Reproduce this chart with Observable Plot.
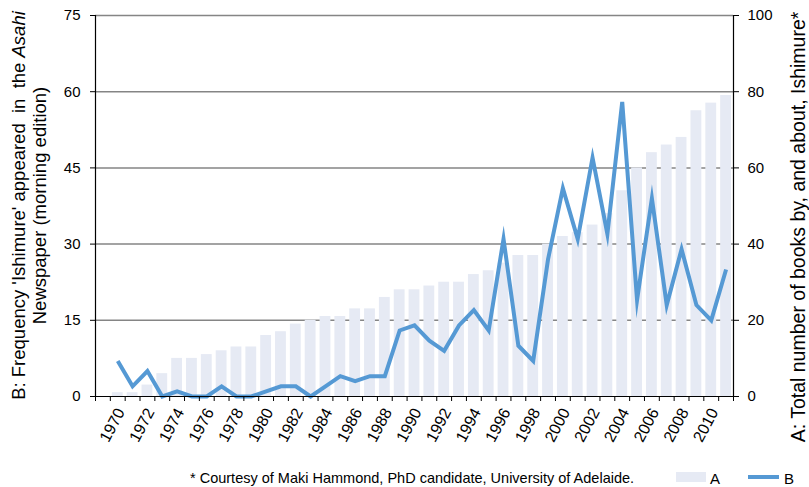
<!DOCTYPE html>
<html>
<head>
<meta charset="utf-8">
<script src="https://cdn.jsdelivr.net/npm/d3@7"></script>
<script src="https://cdn.jsdelivr.net/npm/@observablehq/plot@0.6"></script>
<style>
  body { margin: 0; background: #fff; }
  #chart svg { display: block; }
</style>
</head>
<body>
<div id="chart"></div>
<script>
// ---- data ----
const years = [1970,1971,1972,1973,1974,1975,1976,1977,1978,1979,
               1980,1981,1982,1983,1984,1985,1986,1987,1988,1989,
               1990,1991,1992,1993,1994,1995,1996,1997,1998,1999,
               2000,2001,2002,2003,2004,2005,2006,2007,2008,2009,
               2010,2011];
// A: total number of books by, and about, Ishimure (right axis, 0-100)
const booksA = [1,1,3,6,10,10,11,12,13,13,
                16,17,19,20,21,21,23,23,26,28,
                28,29,30,30,32,33,35,37,37,40,
                42,43,45,48,54,60,64,66,68,75,
                77,79];
// B: frequency 'Ishimure' appeared in the Asahi (left axis, 0-75)
const freqB = [7,2,5,0,1,0,0,2,0,0,
               1,2,2,0,2,4,3,4,4,13,
               14,11,9,14,17,13,31,10,7,27,
               41,31,47,32,58,19,39,18,29,18,
               15,25];
const xTickLabels = ["1970","1972","1974","1976","1978","1980","1982","1984","1986","1988","1990",
                     "1992","1994","1996","1998","2000","2002","2004","2006","2008","2010"];
const leftTicks = [0,15,30,45,60,75];
const rightMax = 100, leftMax = 75;

// ---- layout ----
const W = 809, H = 487, mL = 95, mR = 76, mT = 15, mB = 91;
const slots = ["1969", ...years.map(String)];   // leading empty category as in the original
const half = (W - mL - mR) / slots.length / 2;

const data = years.map((y, i) => ({year: String(y), A: booksA[i], B: freqB[i]}));

const font = "'Liberation Sans', Arial, Helvetica, sans-serif";

const chart = Plot.plot({
  width: W, height: H,
  marginLeft: mL, marginRight: mR, marginTop: mT, marginBottom: mB,
  style: {fontFamily: font, fontSize: "15px", color: "#000", background: "#fff", overflow: "visible"},
  x: {type: "band", domain: slots, padding: 0},
  y: {domain: [0, leftMax]},
  marks: [
    Plot.gridY(leftTicks.filter(d => d > 0), {stroke: "#858585", strokeOpacity: 1, strokeWidth: 1.5}),
    Plot.barY(data, {x: "year", y: d => d.A * leftMax / rightMax, fill: "#e6eaf4", insetLeft: 2, insetRight: 2}),
    Plot.line(data, {x: "year", y: "B", stroke: "#5599d4", strokeWidth: 4,
                     strokeLinejoin: "miter", strokeMiterlimit: 10, strokeLinecap: "butt"}),
    Plot.ruleY([0], {stroke: "#000", strokeWidth: 1.2}),
    Plot.frame({anchor: "left", stroke: "#000", strokeWidth: 1.2}),
    Plot.frame({anchor: "right", stroke: "#000", strokeWidth: 1.2}),
    Plot.axisY(leftTicks, {anchor: "left", tickSize: 5, tickPadding: 10, label: null, stroke: "#000"}),
    Plot.axisY(leftTicks, {anchor: "right", tickSize: 5, tickPadding: 9, label: null, stroke: "#000",
                           tickFormat: d => String(Math.round(d * rightMax / leftMax))}),
    Plot.axisX(slots, {anchor: "bottom", tickSize: 5, dx: half, tickFormat: () => "", label: null, stroke: "#000"}),
    Plot.axisX(["1969"], {anchor: "bottom", tickSize: 5, dx: -half, tickFormat: () => "", label: null, stroke: "#000"}),
    Plot.axisX(xTickLabels, {anchor: "bottom", tickSize: 0, tickRotate: -62, tickPadding: 13, dx: 3,
                             label: null, fontSize: 16})
  ]
});

document.getElementById("chart").appendChild(chart);

// ---- titles, footnote, legend ----
const svg = d3.select(chart);
const cy = (mT + (H - mB)) / 2;

const lt = svg.append("text")
  .attr("transform", `translate(25,${cy}) rotate(-90)`)
  .attr("text-anchor", "middle")
  .style("font-family", font).style("font-size", "18.5px").attr("fill", "#000");
lt.append("tspan").text("B: Frequency 'Ishimure' appeared  in  the ");
lt.append("tspan").style("font-style", "italic").text("Asahi");

svg.append("text")
  .attr("transform", `translate(46,${cy}) rotate(-90)`)
  .attr("text-anchor", "middle")
  .style("font-family", font).style("font-size", "18.5px").attr("fill", "#000")
  .text("Newspaper (morning edition)");

svg.append("text")
  .attr("transform", `translate(805,227) rotate(-90)`)
  .attr("text-anchor", "middle")
  .style("font-family", font).style("font-size", "19.5px").attr("fill", "#000")
  .text("A: Total number of books by, and about, Ishimure*");

svg.append("text")
  .attr("x", 190).attr("y", 483).attr("text-anchor", "start")
  .style("font-family", font).style("font-size", "14.5px").attr("fill", "#000")
  .text("* Courtesy of Maki Hammond, PhD candidate, University of Adelaide.");

svg.append("rect").attr("x", 676).attr("y", 472).attr("width", 30).attr("height", 10).attr("fill", "#e6eaf4");
svg.append("text").attr("x", 710).attr("y", 484).attr("text-anchor", "start")
  .style("font-family", font).style("font-size", "15px").attr("fill", "#000").text("A");
svg.append("line").attr("x1", 748).attr("x2", 779).attr("y1", 477).attr("y2", 477)
  .attr("stroke", "#5599d4").attr("stroke-width", 4);
svg.append("text").attr("x", 784).attr("y", 484).attr("text-anchor", "start")
  .style("font-family", font).style("font-size", "15px").attr("fill", "#000").text("B");
</script>
</body>
</html>
